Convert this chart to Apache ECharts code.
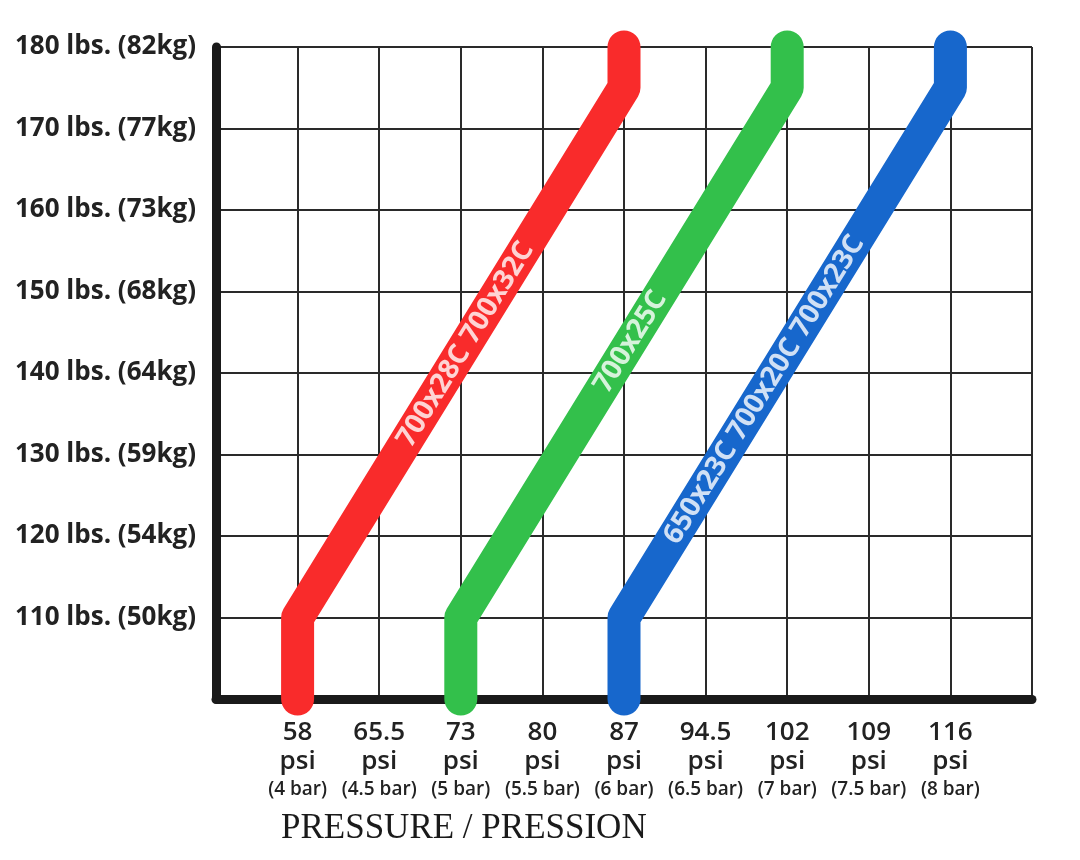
<!DOCTYPE html>
<html><head><meta charset="utf-8">
<script src="https://cdn.jsdelivr.net/npm/echarts@6/dist/echarts.min.js"></script>
<style>html,body{margin:0;padding:0;background:#fff}#c{width:1080px;height:860px}</style>
</head><body><div id="c"></div>
<script>
// ---- data ----
const pressures = ['58','65.5','73','80','87','94.5','102','109','116'];
const bars = ['4 bar','4.5 bar','5 bar','5.5 bar','6 bar','6.5 bar','7 bar','7.5 bar','8 bar'];
const weightsLbs = [110,120,130,140,150,160,170,180];
const weightsKg = [50,54,59,64,68,73,77,82];
const tireNames = ['700x28C 700x32C','700x25C','650x23C 700x20C 700x23C'];
const redLine   = [['58',100],['58',110],['87',175],['87',180]];
const greenLine = [['73',100],['73',110],['102',175],['102',180]];
const blueLine  = [['87',100],['87',110],['116',175],['116',180]];
const xTitle = 'PRESSURE / PRESSION';

// ---- presentation ----
const lines = [redLine, greenLine, blueLine];
const colors = ['#f92b2b','#33c04b','#1767cc'];
const labelT = [0.515, 0.52, 0.43];
const toXY = p => [pressures.indexOf(p[0]) + 1, p[1]];
const lineData = lines.map(l => l.map(toXY));
const anchors = lineData.map((d, i) => {
  const a = d[1], b = d[2], t = labelT[i];
  return [a[0] + (b[0]-a[0])*t, a[1] + (b[1]-a[1])*t];
});

const chart = echarts.init(document.getElementById('c'));
function build(rot) {
  return {
    backgroundColor: '#fff',
    animation: false,
    title: {
      text: xTitle, left: 276, top: 806,
      textStyle: {fontFamily: 'Liberation Serif', fontSize: 35, fontWeight: 'normal', color: '#1a1a1a'}
    },
    grid: {left: 216, right: 48, top: 47, bottom: 161},
    xAxis: {
      type: 'value', min: 0, max: 10, interval: 1,
      axisLine: {show: true, onZero: false, lineStyle: {color: '#1a1a1a', width: 9}},
      axisTick: {show: false},
      splitLine: {show: true, lineStyle: {color: '#2a2a2a', width: 2}},
      axisLabel: {
        margin: 19,
        formatter: v => {
          const i = Math.round(v) - 1;
          if (i < 0 || i >= pressures.length) return '';
          return '{a|' + pressures[i] + '}\n{a|psi}\n{b|(' + bars[i] + ')}';
        },
        rich: {
          a: {fontFamily: 'Open Sans', fontWeight: 600, fontSize: 26, lineHeight: 29, color: '#222'},
          b: {fontFamily: 'Open Sans', fontWeight: 600, fontSize: 19, lineHeight: 27, color: '#222'}
        }
      }
    },
    yAxis: {
      type: 'value', min: 100, max: 180, interval: 10,
      axisLine: {show: true, lineStyle: {color: '#1a1a1a', width: 9}},
      axisTick: {show: false},
      splitLine: {show: true, lineStyle: {color: '#2a2a2a', width: 2}},
      axisLabel: {
        margin: 20,
        fontFamily: 'Open Sans', fontWeight: 'bold', fontSize: 26, color: '#222',
        formatter: v => {
          const i = weightsLbs.indexOf(v);
          return i < 0 ? '' : v + ' lbs. (' + weightsKg[i] + 'kg)';
        }
      }
    },
    series: lineData.map((d, i) => ({
      type: 'line', data: d, showSymbol: false, symbol: 'none', clip: false, z: 5,
      lineStyle: {color: colors[i], width: 33, cap: 'round', join: 'round'}
    })).concat(anchors.map((a, i) => ({
      type: 'scatter', data: [a], symbolSize: 0, z: 6, silent: true,
      label: {
        show: true, position: 'inside', rotate: rot,
        formatter: () => tireNames[i],
        color: '#fff', fontFamily: 'Open Sans', fontWeight: 'bold', fontSize: 28
      }
    })))
  };
}
chart.setOption(build(58));
const p1 = chart.convertToPixel({gridIndex: 0}, lineData[0][1]);
const p2 = chart.convertToPixel({gridIndex: 0}, lineData[0][2]);
const ang = Math.atan2(p1[1] - p2[1], p2[0] - p1[0]) * 180 / Math.PI;
chart.setOption(build(ang));
</script>
</body></html>
